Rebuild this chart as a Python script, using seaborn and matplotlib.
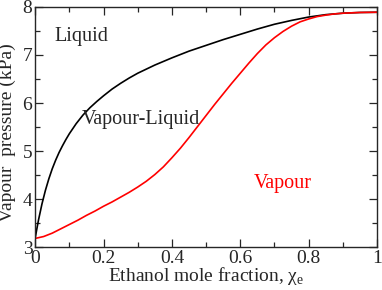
import matplotlib
matplotlib.use("Agg")
import matplotlib.pyplot as plt
import seaborn as sns
import pandas as pd
from matplotlib.ticker import MultipleLocator

# liquid (bubble) line, black
x_liquid = [0.0, 0.005, 0.01, 0.02, 0.03, 0.04, 0.05, 0.06, 0.07, 0.08, 0.09, 0.10,
            0.12, 0.14, 0.16, 0.18, 0.20, 0.225, 0.25, 0.275, 0.30, 0.35, 0.40, 0.45,
            0.50, 0.55, 0.60, 0.65, 0.70, 0.75, 0.80, 0.85, 0.90, 0.95, 1.0]
p_liquid = [3.18, 3.38, 3.57, 3.90, 4.18, 4.42, 4.63, 4.81, 4.97, 5.11, 5.24, 5.36,
            5.57, 5.75, 5.90, 6.03, 6.15, 6.29, 6.41, 6.52, 6.62, 6.79, 6.94, 7.08,
            7.20, 7.32, 7.43, 7.54, 7.64, 7.72, 7.79, 7.84, 7.87, 7.885, 7.89]

# vapour (dew) line, red
x_vapour = [0.0, 0.025, 0.05, 0.075, 0.10, 0.125, 0.15, 0.175, 0.20, 0.225, 0.25,
            0.275, 0.30, 0.325, 0.35, 0.375, 0.40, 0.425, 0.45, 0.475, 0.50, 0.525,
            0.55, 0.575, 0.60, 0.625, 0.65, 0.675, 0.70, 0.725, 0.75, 0.775, 0.80,
            0.825, 0.85, 0.875, 0.90, 0.95, 1.0]
p_vapour = [3.18, 3.22, 3.29, 3.38, 3.47, 3.56, 3.66, 3.75, 3.85, 3.94, 4.04,
            4.14, 4.25, 4.37, 4.51, 4.67, 4.86, 5.06, 5.28, 5.51, 5.74, 5.97,
            6.19, 6.41, 6.62, 6.83, 7.03, 7.21, 7.36, 7.49, 7.60, 7.69, 7.75,
            7.80, 7.83, 7.855, 7.87, 7.885, 7.89]

liquid = pd.DataFrame({"x": x_liquid, "p": p_liquid})
vapour = pd.DataFrame({"x": x_vapour, "p": p_vapour})

sns.set_style("ticks")
plt.rcParams['font.family'] = ['Liberation Serif', 'DejaVu Serif']
plt.rcParams['mathtext.fontset'] = 'custom'
plt.rcParams['mathtext.rm'] = 'Liberation Serif'

fig = plt.figure(figsize=(3.82, 2.90), dpi=100)
ax = fig.add_axes([0.092, 0.148, 0.895, 0.828])

sns.lineplot(data=liquid, x="x", y="p", color="black", linewidth=1.2, ax=ax)
sns.lineplot(data=vapour, x="x", y="p", color="red", linewidth=1.2, ax=ax)

ax.set_xlim(0, 1)
ax.set_ylim(3, 8)
ax.xaxis.set_minor_locator(MultipleLocator(0.1))
ax.yaxis.set_major_locator(MultipleLocator(1))
ax.yaxis.set_minor_locator(MultipleLocator(0.5))
ax.set_xticks([0, 0.2, 0.4, 0.6, 0.8, 1.0])
ax.set_xticklabels(["0", "0.2", "0.4", "0.6", "0.8", "1"])
ax.tick_params(which="both", direction="in", top=True, right=True, labelsize=14, pad=2)
ax.tick_params(which="major", length=6, width=0.9)
ax.tick_params(which="minor", length=3.5, width=0.9)
for s in ax.spines.values():
    s.set_linewidth(1.0)

ax.set_xlabel("Ethanol mole fraction, χ$_\\mathrm{e}$", fontsize=14, labelpad=-1)
ax.set_ylabel("Vapour  pressure (kPa)", fontsize=14, labelpad=0)
ax.yaxis.set_label_coords(-0.056, 0.475)

ax.text(0.134, 7.38, "Liquid", fontsize=14.5, ha="center", va="center")
ax.text(0.31, 5.66, "Vapour-Liquid", fontsize=14.5, ha="center", va="center")
ax.text(0.723, 4.33, "Vapour", fontsize=14.5, ha="center", va="center", color="red")

fig.savefig("out.png", dpi=100)
